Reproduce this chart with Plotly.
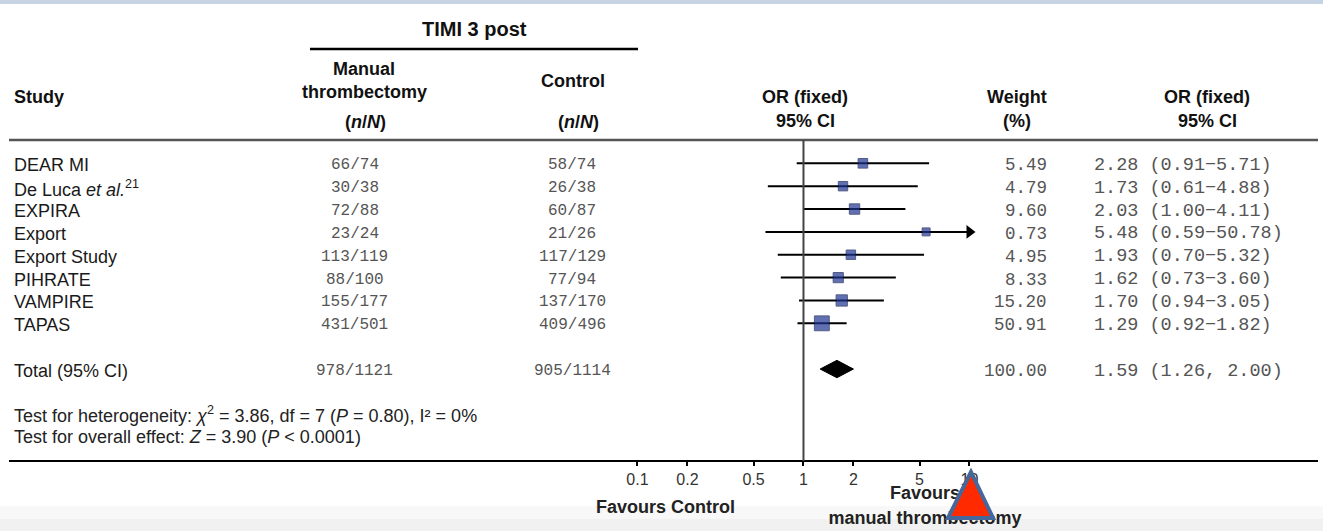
import math
import plotly.graph_objects as go

W, H = 1323, 531

# ---------------- data ----------------
studies = ["DEAR MI", "De Luca <i>et al.</i><sup>21</sup>", "EXPIRA", "Export",
           "Export Study", "PIHRATE", "VAMPIRE", "TAPAS"]
mt_n = [66, 30, 72, 23, 113, 88, 155, 431]
mt_N = [74, 38, 88, 24, 119, 100, 177, 501]
ctl_n = [58, 26, 60, 21, 117, 77, 137, 409]
ctl_N = [74, 38, 87, 26, 129, 94, 170, 496]
weight = [5.49, 4.79, 9.60, 0.73, 4.95, 8.33, 15.20, 50.91]
or_est = [2.28, 1.73, 2.03, 5.48, 1.93, 1.62, 1.70, 1.29]
or_lo = [0.91, 0.61, 1.00, 0.59, 0.70, 0.73, 0.94, 0.92]
or_hi = [5.71, 4.88, 4.11, 50.78, 5.32, 3.60, 3.05, 1.82]

total_label = "Total (95% CI)"
total_mt = (978, 1121)
total_ctl = (905, 1114)
total_weight = 100.00
total_or = 1.59
total_lo = 1.26
total_hi = 2.00

tick_vals = [0.1, 0.2, 0.5, 1, 2, 5, 10]
tick_text = ["0.1", "0.2", "0.5", "1", "2", "5", "10"]
axis_max = 10

het_text = ("Test for heterogeneity: <i>χ</i><sup>2</sup> = 3.86, df = 7 "
            "(<i>P</i> = 0.80), I² = 0%")
eff_text = "Test for overall effect: <i>Z</i> = 3.90 (<i>P</i> < 0.0001)"

# ---------------- helpers ----------------
SANS = "Liberation Sans, Arial, Helvetica, sans-serif"
MONO = "Liberation Mono, Courier New, monospace"


def py(p):
    return 1 - p / H


def px(p):
    return p / W


rows = list(range(len(studies)))
total_row = len(studies) + 1

fig = go.Figure()

# CI lines (truncated at axis max)
xs, ys = [], []
for i, (lo, hi) in enumerate(zip(or_lo, or_hi)):
    xs += [lo, min(hi, axis_max), None]
    ys += [i, i, None]
fig.add_trace(go.Scatter(x=xs, y=ys, mode="lines",
                         line=dict(color="black", width=2), hoverinfo="skip"))

# arrows for truncated CIs
arr_x = [axis_max for hi in or_hi if hi > axis_max]
arr_y = [i for i, hi in enumerate(or_hi) if hi > axis_max]
fig.add_trace(go.Scatter(x=arr_x, y=arr_y, mode="markers",
                         marker=dict(symbol="triangle-right", size=12, color="black"),
                         hoverinfo="skip"))

# study squares sized by weight
sizes = [7 + 1.1 * math.sqrt(w) for w in weight]
fig.add_trace(go.Scatter(x=or_est, y=rows, mode="markers",
                         marker=dict(symbol="square", size=sizes, color="#1d3593",
                                     line=dict(color="#0c1850", width=1)),
                         hoverinfo="skip"))

# pooled diamond
dh = 0.38
fig.add_trace(go.Scatter(
    x=[total_lo, total_or, total_hi, total_or, total_lo],
    y=[total_row, total_row - dh, total_row, total_row + dh, total_row],
    mode="lines", fill="toself", fillcolor="black",
    line=dict(color="black", width=1), hoverinfo="skip"))

# bottom labels as traces on a pixel overlay so the pointer triangle covers them
fig.add_trace(go.Scatter(
    x=[925, 925], y=[494, 519], xaxis="x2", yaxis="y2", mode="text",
    text=["<b>Favours</b>", "<b>manual thrombectomy</b>"],
    textfont=dict(family=SANS, size=18, color="#222"),
    textposition="middle center", hoverinfo="skip"))

fig.update_layout(
    width=W, height=H, margin=dict(l=0, r=0, t=0, b=0),
    paper_bgcolor="white", plot_bgcolor="rgba(0,0,0,0)", showlegend=False,
    xaxis=dict(type="log", range=[-4.840, 3.1295], domain=[0, 1],
               anchor="free", position=(H - 461) / H,
               showgrid=False, zeroline=False, showline=False,
               tickmode="array", tickvals=tick_vals, ticktext=tick_text,
               ticks="outside", ticklen=4, tickwidth=1.5, tickcolor="black",
               tickfont=dict(family=SANS, size=16, color="#333")),
    yaxis=dict(range=[16.085, -7.144], visible=False, domain=[0, 1]),
    xaxis2=dict(range=[0, W], overlaying="x", visible=False, anchor="y2"),
    yaxis2=dict(range=[H, 0], overlaying="y", visible=False, anchor="x2"),
)

shapes = []
# top blue band
shapes.append(dict(type="rect", xref="paper", yref="paper", x0=0, x1=1,
                   y0=py(4), y1=1, fillcolor="#c5d3e3", line=dict(width=0), layer="below"))
# bottom faint gradient
shapes.append(dict(type="rect", xref="paper", yref="paper", x0=0, x1=1,
                   y0=0, y1=py(506), fillcolor="#f8f8f8", line=dict(width=0), layer="below"))
shapes.append(dict(type="rect", xref="paper", yref="paper", x0=0, x1=1,
                   y0=0, y1=py(519), fillcolor="#f1f1f1", line=dict(width=0), layer="below"))
# line under TIMI 3 post
shapes.append(dict(type="line", xref="paper", yref="paper", x0=px(310), x1=px(638),
                   y0=py(49), y1=py(49), line=dict(color="black", width=2.5)))
# header rule
shapes.append(dict(type="line", xref="paper", yref="paper", x0=px(9), x1=px(1318),
                   y0=py(140), y1=py(140), line=dict(color="#555", width=2.5)))
# axis rule
shapes.append(dict(type="line", xref="paper", yref="paper", x0=px(9), x1=px(1318),
                   y0=py(461), y1=py(461), line=dict(color="black", width=2)))
# line of no effect
shapes.append(dict(type="line", xref="x", yref="paper", x0=1, x1=1,
                   y0=py(140), y1=py(461), line=dict(color="#444", width=2)))
# red pointer triangle
tri = [(971, 472), (948, 518), (993, 518)]
path = "M {} {} L {} {} L {} {} Z".format(*[v for (a, b) in tri for v in (px(a), py(b))])
shapes.append(dict(type="path", xref="paper", yref="paper", path=path,
                   fillcolor="#ff2a00", line=dict(color="#46679a", width=4), layer="above"))
fig.update_layout(shapes=shapes)

ann = []


def text(x, y, s, size=16, bold=False, color="#111", anchor="center",
         family=SANS, yref="paper", yshift=0):
    if bold:
        s = "<b>" + s + "</b>"
    ann.append(dict(x=px(x), y=(py(y) if yref == "paper" else y), xref="paper", yref=yref,
                    text=s, showarrow=False, xanchor=anchor, yanchor="middle",
                    yshift=yshift,
                    font=dict(family=family, size=size, color=color)))


# headers
text(474, 29, "TIMI 3 post", size=20, bold=True)
text(12, 97, "Study", size=18, bold=True, anchor="left")
text(364, 69, "Manual", size=18, bold=True)
text(364, 92, "thrombectomy", size=18, bold=True)
text(365, 122, "(<i>n</i>/<i>N</i>)", size=18, bold=True)
text(573, 81, "Control", size=18, bold=True)
text(578, 122, "(<i>n</i>/<i>N</i>)", size=18, bold=True)
text(805, 97, "OR (fixed)", size=18, bold=True)
text(805, 121, "95% CI", size=18, bold=True)
text(1017, 97, "Weight", size=18, bold=True)
text(1017, 121, "(%)", size=18, bold=True)
text(1207, 97, "OR (fixed)", size=18, bold=True)
text(1207, 121, "95% CI", size=18, bold=True)

# study rows
num_col = "#555"
RS = -2
for i in rows:
    text(12, i, studies[i], size=18, anchor="left", yref="y", color="#1a1a1a", yshift=RS)
    text(355, i, f"{mt_n[i]}/{mt_N[i]}", size=16, family=MONO, color=num_col, yref="y", yshift=RS)
    text(572, i, f"{ctl_n[i]}/{ctl_N[i]}", size=16, family=MONO, color=num_col, yref="y", yshift=RS)
    text(1049, i, f"{weight[i]:.2f}", size=17.5, family=MONO, color=num_col, yref="y",
         anchor="right", yshift=RS)
    text(1092, i, f"{or_est[i]:.2f} ({or_lo[i]:.2f}\u2212{or_hi[i]:.2f})", size=18.5,
         family=MONO, color=num_col, yref="y", anchor="left", yshift=RS)

# total row
text(12, total_row, total_label, size=18, anchor="left", yref="y", color="#1a1a1a", yshift=RS)
text(355, total_row, f"{total_mt[0]}/{total_mt[1]}", size=16, family=MONO, color=num_col,
     yref="y", yshift=RS)
text(572, total_row, f"{total_ctl[0]}/{total_ctl[1]}", size=16, family=MONO, color=num_col,
     yref="y", yshift=RS)
text(1049, total_row, f"{total_weight:.2f}", size=17.5, family=MONO, color=num_col, yref="y",
     anchor="right", yshift=RS)
text(1092, total_row, f"{total_or:.2f} ({total_lo:.2f}, {total_hi:.2f})", size=18.5,
     family=MONO, color=num_col, yref="y", anchor="left", yshift=RS)

# tests
text(12, 414, het_text, size=18, anchor="left", color="#222")
text(12, 437, eff_text, size=18, anchor="left", color="#222")

# favours control
text(665, 507, "Favours Control", size=18, bold=True, color="#222")

fig.update_layout(annotations=ann)

fig.write_html("out.html")
